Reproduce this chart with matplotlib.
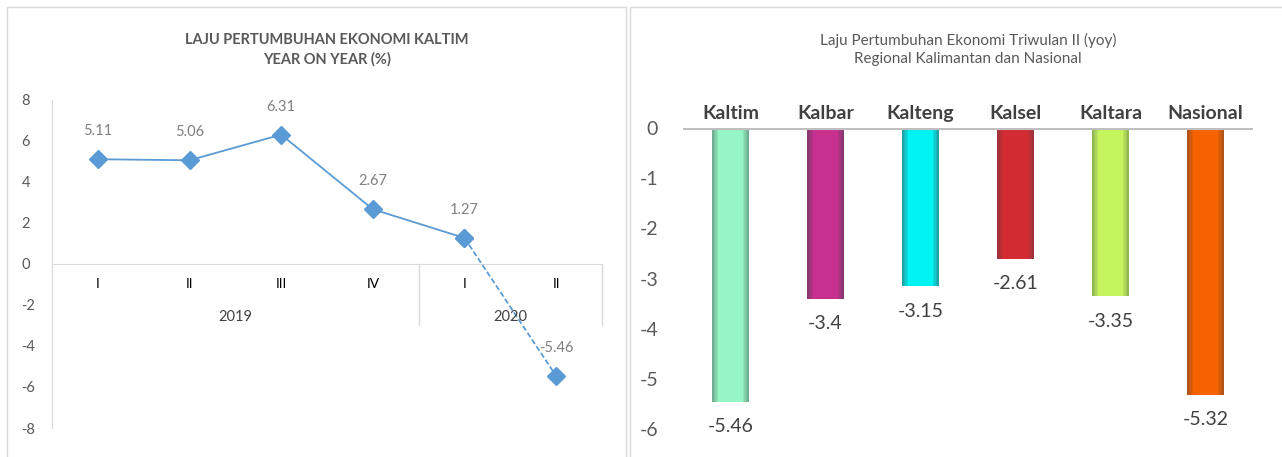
import matplotlib.pyplot as plt
from matplotlib.patches import Rectangle
from matplotlib.colors import to_rgb

plt.rcParams['font.family'] = ['Lato', 'DejaVu Sans']
plt.rcParams['axes.unicode_minus'] = False

# data
quarters = ['I', 'II', 'III', 'IV', 'I', 'II']
years = ['2019', '2020']
year_span = [(0, 3), (4, 5)]
growth = [5.11, 5.06, 6.31, 2.67, 1.27, -5.46]

regions = ['Kaltim', 'Kalbar', 'Kalteng', 'Kalsel', 'Kaltara', 'Nasional']
q2_growth = [-5.46, -3.4, -3.15, -2.61, -3.35, -5.32]
bar_colors = ['#96F5C4', '#C7308F', '#00F2F2', '#D22B32', '#C5F55C', '#F76200']
edge_colors = ['#6FAE92', '#86386F', '#20A3AA', '#A2323A', '#93B954', '#B0541B']

fig = plt.figure(figsize=(12.82, 4.57), dpi=100)

# panel frames
fig.patches.append(Rectangle((7 / 1282, -0.01), 619 / 1282, 1 - 7 / 457 + 0.01,
                             transform=fig.transFigure, fill=False, ec='#d9d9d9', lw=1))
fig.patches.append(Rectangle((630 / 1282, -0.01), 660 / 1282, 1 - 7 / 457 + 0.01,
                             transform=fig.transFigure, fill=False, ec='#d9d9d9', lw=1))

# ---- left chart
ax = fig.add_axes([52 / 1282, 1 - 428 / 457, 550 / 1282, 328 / 457])
x = list(range(len(growth)))
ax.plot(x[:5], growth[:5], color='#5B9BD5', lw=1.3, marker='D', ms=9, zorder=3)
ax.plot(x[4:], growth[4:], color='#5B9BD5', lw=1.3, ls=(0, (3, 1.5)), marker='D', ms=9, zorder=3)
for xi, v in zip(x, growth):
    ax.annotate(f'{v:.2f}', (xi, v), xytext=(0, 20), textcoords='offset points',
                ha='center', va='center', fontsize=10.5, color='#808080')
ax.set_xlim(-0.5, 5.5)
ax.set_ylim(-8, 8)
ax.set_yticks(range(-8, 9, 2))
ax.set_xticks(x)
ax.set_xticklabels(quarters, fontsize=10, color='#595959')
ax.tick_params(axis='x', length=0, pad=10)
ax.tick_params(axis='y', length=0, pad=22, labelsize=10.5, labelcolor='#595959')
for lab in ax.get_yticklabels():
    lab.set_horizontalalignment('left')
ax.spines['bottom'].set_position(('data', 0))
ax.spines['bottom'].set_color('#d9d9d9')
ax.spines['left'].set_color('#d9d9d9')
ax.spines['top'].set_visible(False)
ax.spines['right'].set_visible(False)
for yr, (a, b) in zip(years, year_span):
    ax.text((a + b) / 2, -2.6, yr, ha='center', va='center', fontsize=10.5, color='#404040')
for sx in [3.5, 5.5]:
    ax.plot([sx, sx], [0, -3.0], color='#d9d9d9', lw=1, clip_on=False)
ax.set_title('LAJU PERTUMBUHAN EKONOMI KALTIM\nYEAR ON YEAR (%)', fontsize=10.5,
             fontweight='bold', color='#595959', pad=26, linespacing=1.5)

# ---- right chart
ax2 = fig.add_axes([683 / 1282, 1 - 429 / 457, 570 / 1282, 301 / 457])
bx = list(range(len(regions)))
# soft inner glow: stack narrower bars blending edge colour into fill colour
widths = [0.39, 0.35, 0.32, 0.29, 0.26]
for k, w in enumerate(widths):
    t = k / (len(widths) - 1)
    cols = [tuple(e * (1 - t) + f * t for e, f in zip(to_rgb(ec), to_rgb(fc)))
            for ec, fc in zip(edge_colors, bar_colors)]
    ax2.bar(bx, q2_growth, width=w, color=cols, lw=0, zorder=2 + k * 0.01)
for xi, v in zip(bx, q2_growth):
    ax2.annotate(f'{v:g}', (xi, v), xytext=(0, -18), textcoords='offset points',
                 ha='center', va='center', fontsize=14, color='#404040')
for xi, r in zip(bx, regions):
    ax2.text(xi, 0.28, r, ha='center', va='center', fontsize=14, fontweight='bold', color='#404040')
ax2.axhline(0, color='#bfbfbf', lw=3, zorder=3)
ax2.set_xlim(-0.5, 5.5)
ax2.set_ylim(-6, 0)
ax2.set_yticks(range(-6, 1))
ax2.set_xticks([])
ax2.tick_params(axis='y', length=0, pad=18, labelsize=14, labelcolor='#595959')
for s in ax2.spines.values():
    s.set_visible(False)
ax2.set_title('Laju Pertumbuhan Ekonomi Triwulan II (yoy)\nRegional Kalimantan dan Nasional',
              fontsize=11, color='#595959', pad=47, linespacing=1.3)

fig.savefig('out.png', dpi=100)
